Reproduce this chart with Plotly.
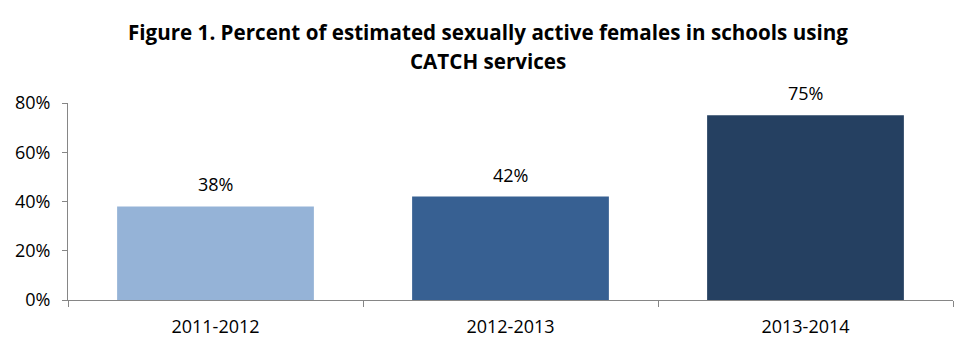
import plotly.graph_objects as go

categories = ["2011-2012", "2012-2013", "2013-2014"]
values = [38, 42, 75]
labels = ["38%", "42%", "75%"]
colors = ["#95B3D7", "#376092", "#254061"]
y_ticks = [0, 20, 40, 60, 80]
y_tick_labels = ["0%", "20%", "40%", "60%", "80%"]
title_lines = ["Figure 1. Percent of estimated sexually active females in schools using",
               "CATCH services"]

FONT = "Open Sans"

fig = go.Figure(go.Bar(
    x=categories, y=values, marker=dict(color=colors, line=dict(width=0)),
    hoverinfo="x+y",
))

for c, v, t in zip(categories, values, labels):
    fig.add_annotation(x=c, y=v, text=t, showarrow=False, yanchor="bottom",
                       yshift=8, font=dict(family=FONT, size=18, color="#000000"))

for i, line in enumerate(title_lines):
    fig.add_annotation(xref="paper", yref="paper", x=(487.5 - 68) / 885, y=1,
                       xanchor="center", yanchor="middle", yshift=71 - 29 * i,
                       text="<b>" + line + "</b>", showarrow=False,
                       font=dict(family=FONT, size=20.6, color="#000000"))

fig.update_layout(
    width=975, height=353,
    margin=dict(l=68, r=22, t=103, b=53),
    paper_bgcolor="white", plot_bgcolor="white",
    bargap=0.333,
    showlegend=False,
    xaxis=dict(type="category", tickson="boundaries", ticks="outside", ticklen=6,
               tickcolor="#868686", showline=True, linecolor="#868686", linewidth=1,
               showgrid=False, ticklabelstandoff=10,
               tickfont=dict(family=FONT, size=18, color="#000000")),
    yaxis=dict(range=[0, 80], tickvals=y_ticks, ticktext=y_tick_labels,
               ticks="outside", ticklen=5, tickcolor="#868686", showline=True,
               linecolor="#868686", linewidth=1, showgrid=False, zeroline=False,
               ticklabelstandoff=8,
               tickfont=dict(family=FONT, size=18, color="#000000")),
)

fig.write_html("out.html")
